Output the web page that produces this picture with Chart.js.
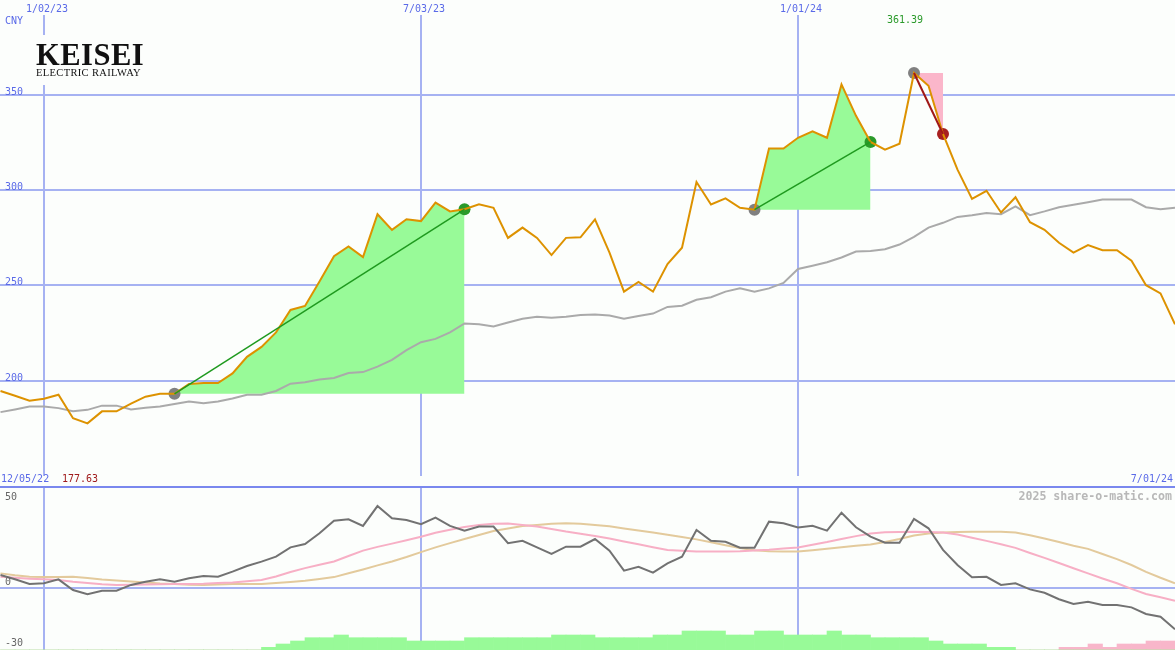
<!DOCTYPE html>
<html>
<head>
<meta charset="utf-8">
<title>Keisei Electric Railway</title>
<script src="https://cdn.jsdelivr.net/npm/chart.js@4.4.1/dist/chart.umd.min.js"></script>
<style>
  html, body { margin: 0; padding: 0; background: #fcfefc; overflow: hidden; }
  #wrap { position: relative; width: 1175px; height: 650px; }
  canvas { position: absolute; left: 0; }
  #sep { position: absolute; left: 0; top: 486px; width: 1175px; height: 2px; background: #7a88ee; }
  .lbl { position: absolute; font: 10px 'DejaVu Sans Mono', monospace; line-height: 12px; white-space: nowrap; color: #5a6ae8; }
  .grey { color: #666; }
  #wm { position: absolute; right: 3px; top: 489px; font: bold 11.6px 'DejaVu Sans Mono', monospace; line-height: 14px; color: #b8b8b8; white-space: nowrap; }
  #logo { position: absolute; left: 30px; top: 35px; width: 122px; height: 50px; background: #fcfefc; }
  #logo .big { position: absolute; left: 6px; top: 5px; font: bold 30.5px 'Liberation Serif', serif; line-height: 30px; letter-spacing: 0.5px; color: #111; white-space: nowrap; }
  #logo .small { position: absolute; left: 6px; top: 32px; font: 10.5px 'Liberation Serif', serif; line-height: 11px; letter-spacing: 0.35px; color: #111; white-space: nowrap; }
</style>
</head>
<body>
<div id="wrap">
  <canvas id="priceChart" width="1175" height="487" style="top:0"></canvas>
  <canvas id="oscChart" width="1175" height="163" style="top:487px"></canvas>
  <div id="sep"></div>
  <div id="logo"><div class="big">KEISEI</div><div class="small">ELECTRIC RAILWAY</div></div>
  <span class="lbl" style="left:5px;top:15px">CNY</span>
  <span class="lbl" style="left:1px;top:473px">12/05/22</span>
  <span class="lbl" id="lowLbl" style="left:62px;top:473px;color:#a01c1c"></span>
  <span class="lbl" style="right:2px;top:473px">7/01/24</span>
  <span class="lbl" id="highLbl" style="left:887px;top:14px;color:#2a9a2a"></span>
  <span id="wm">2025 share-o-matic.com</span>
  <span class="lbl grey" style="left:5px;top:491px">50</span>
  <span class="lbl grey" style="left:5px;top:576px">0</span>
  <span class="lbl grey" style="left:5px;top:637px">-30</span>
</div>
<script>
// Colors
const GRID_BLUE = '#a6b2f2';
const TICK_BLUE = '#5a6ae8';
const PRICE_ORANGE = '#dd9200';
const AVG_GREY = '#aaaaaa';
const GAIN_FILL = '#98fa98';
const LOSS_FILL = '#fbb6ca';
const GAIN_LINE = '#1f9a1f';
const LOSS_LINE = '#a01818';

// week number counted from 1/02/23, first point 12/12/22, last 7/01/24
const weeks = Array.from({ length: 82 }, (_, i) => i - 3);
const dateTicks = [0, 26, 52];
const dateTickLabels = ['1/02/23', '7/03/23', '1/01/24'];
const priceTicks = [200, 250, 300, 350];

// weekly close (CNY)
const price = [
    194.6, 192.1, 189.5, 190.5, 192.6, 180.3, 177.63, 183.9, 183.9, 188.0,
    191.6, 193.1, 193.1, 198.3, 198.8, 198.8, 203.8, 212.5, 217.7, 225.3,
    237.1, 239.2, 252.0, 265.3, 270.4, 264.8, 287.3, 279.1, 284.7, 283.7,
    293.4, 288.8, 289.9, 292.5, 290.7, 274.9, 280.3, 274.9, 265.9, 274.9,
    275.2, 284.6, 267.2, 246.7, 251.8, 246.7, 261.2, 269.7, 304.2, 292.4,
    295.6, 290.7, 289.7, 321.8, 321.8, 327.4, 330.8, 327.4, 355.4, 338.9,
    325.2, 321.2, 324.3, 361.39, 354.7, 329.4, 310.7, 295.3, 299.6, 288.2,
    296.2, 283.1, 279.1, 272.3, 267.2, 271.1, 268.4, 268.4, 262.9, 250.1,
    245.8, 229.6
];

// moving average
const average = [
    183.5, 184.9, 186.4, 186.4, 185.6, 184.0, 184.7, 186.9, 186.9, 184.9,
    185.8, 186.4, 187.8, 189.1, 188.1, 189.1, 190.7, 192.6, 192.6, 194.6,
    198.4, 199.2, 200.6, 201.4, 204.0, 204.5, 207.4, 210.9, 216.0, 220.2,
    221.9, 225.3, 230.0, 229.6, 228.4, 230.5, 232.5, 233.5, 233.0, 233.5,
    234.4, 234.7, 234.2, 232.5, 233.9, 235.2, 238.7, 239.3, 242.4, 243.8,
    246.7, 248.4, 246.7, 248.4, 251.3, 258.6, 260.3, 262.1, 264.6, 267.7,
    268.0, 268.9, 271.4, 275.4, 280.3, 282.8, 285.9, 286.8, 288.0, 287.3,
    291.4, 286.8, 288.8, 291.0, 292.3, 293.6, 295.0, 295.0, 295.0, 291.0,
    289.9, 290.7
];

// oscillator panel
const momentum = [
    7.6, 5.1, 2.4, 2.8, 5.1, -1.2, -3.7, -1.6, -1.6, 1.8,
    3.7, 5.1, 3.7, 5.7, 7.1, 6.6, 9.6, 12.9, 15.5, 18.4,
    23.9, 25.9, 32.2, 39.6, 40.4, 36.5, 48.2, 41.0, 40.0, 37.5,
    41.4, 36.5, 33.7, 36.1, 36.1, 26.3, 27.8, 23.9, 20.0, 24.3,
    24.3, 28.8, 21.9, 10.2, 12.5, 9.0, 14.5, 18.4, 34.1, 27.8,
    27.2, 23.7, 23.7, 39.0, 38.1, 35.6, 36.6, 33.7, 44.3, 35.7,
    30.2, 26.6, 26.6, 40.6, 35.1, 22.4, 13.5, 6.3, 6.6, 1.8,
    2.8, -0.8, -2.8, -6.6, -9.4, -8.1, -10.0, -10.0, -11.4, -15.3,
    -16.9, -24.3
];
const fastLine = [
    6.6, 6.0, 5.5, 5.1, 4.7, 3.7, 2.9, 2.2, 1.8, 1.9,
    2.1, 2.2, 2.3, 2.4, 2.5, 2.9, 3.3, 4.0, 4.7, 6.8,
    9.4, 11.7, 13.7, 15.6, 18.8, 22.0, 24.2, 26.1, 28.1, 30.1,
    32.5, 34.2, 35.9, 37.0, 37.8, 37.9, 37.0, 36.1, 34.7, 33.2,
    31.9, 30.6, 29.1, 27.4, 25.7, 24.0, 22.4, 21.9, 21.5, 21.4,
    21.4, 21.6, 22.0, 22.5, 23.2, 23.8, 25.4, 27.0, 28.8, 30.5,
    32.0, 32.8, 33.0, 33.1, 32.9, 32.6, 31.5, 29.6, 27.7, 25.7,
    23.6, 20.6, 17.7, 14.7, 11.6, 8.6, 5.6, 2.8, -0.5, -3.5,
    -5.5, -7.5
];
const slowLine = [
    8.6, 7.5, 6.6, 6.4, 6.5, 6.6, 5.9, 5.0, 4.4, 3.8,
    3.2, 2.6, 2.3, 1.9, 1.8, 2.1, 2.4, 2.4, 2.4, 2.9,
    3.5, 4.2, 5.3, 6.4, 8.7, 10.9, 13.3, 15.6, 18.2, 21.1,
    23.9, 26.4, 28.8, 31.2, 33.5, 35.0, 36.4, 37.1, 37.8, 38.1,
    37.8, 37.0, 36.3, 35.0, 33.8, 32.6, 31.3, 30.0, 28.6, 26.9,
    25.2, 23.5, 22.2, 21.6, 21.4, 21.4, 22.2, 23.1, 23.9, 24.8,
    25.6, 27.1, 28.8, 30.9, 32.1, 32.6, 33.0, 33.1, 33.1, 33.1,
    32.6, 31.0, 29.1, 27.0, 24.9, 23.0, 20.0, 17.0, 13.5, 9.5,
    6.0, 2.8
];
// strength bars, each covers the week that starts at its point
const upBars = [
    0, 0, 0, 0, 0, 0, 0, 0, 0, 0,
    0, 0, 0, 0, 0, 0, 0, 0, 2.7, 6,
    9, 12.3, 12.3, 15, 12.3, 12.3, 12.3, 12.3, 9, 9,
    9, 9, 12.3, 12.3, 12.3, 12.3, 12.3, 12.3, 15, 15,
    15, 12.3, 12.3, 12.3, 12.3, 15, 15, 19, 19, 19,
    15, 15, 19, 19, 15, 15, 15, 19, 15, 15,
    12.3, 12.3, 12.3, 12.3, 9, 6, 6, 6, 2.7, 2.7,
    0, 0, 0, 0, 0, 0, 0, 0, 0, 0,
    0, 0
];
const downBars = [
    0, 0, 0, 0, 0, 0, 0, 0, 0, 0,
    0, 0, 0, 0, 0, 0, 0, 0, 0, 0,
    0, 0, 0, 0, 0, 0, 0, 0, 0, 0,
    0, 0, 0, 0, 0, 0, 0, 0, 0, 0,
    0, 0, 0, 0, 0, 0, 0, 0, 0, 0,
    0, 0, 0, 0, 0, 0, 0, 0, 0, 0,
    0, 0, 0, 0, 0, 0, 0, 0, 0, 0,
    0, 0, 0, 2.7, 2.7, 6, 2.7, 6, 6, 9,
    9, 0
];

// trend runs as [start week, end week]
const gainRuns = [[9, 29], [49, 57]];
const lossRuns = [[60, 62]];

const X_MIN = -3.034;
const X_MAX = 78;

const pt = (arr, k) => ({ x: k, y: arr[k + 3] });
const series = (arr) => weeks.map(k => pt(arr, k));
const runPoints = ([a, b]) => weeks.filter(k => k >= a && k <= b).map(k => pt(price, k));

Chart.defaults.font.family = "'DejaVu Sans Mono', monospace";
Chart.defaults.font.size = 10;

const baseOptions = {
    responsive: false,
    animation: false,
    events: [],
    devicePixelRatio: 1,
    layout: { padding: 0, autoPadding: false },
    plugins: { legend: { display: false }, tooltip: { enabled: false } },
    elements: { point: { radius: 0 }, line: { tension: 0 } },
};

const dateAxis = (showLabels) => ({
    type: 'linear',
    position: showLabels ? 'top' : 'bottom',
    min: X_MIN,
    max: X_MAX,
    offset: false,
    afterBuildTicks: (axis) => { axis.ticks = dateTicks.map(v => ({ value: v })); },
    afterFit: (axis) => { axis.height = showLabels ? 15 : 0; },
    grid: { color: GRID_BLUE, lineWidth: 2, drawTicks: false, offset: false },
    border: { display: false },
    ticks: {
        display: showLabels,
        autoSkip: false,
        maxRotation: 0,
        padding: 0,
        labelOffset: 3,
        color: TICK_BLUE,
        callback: (v) => dateTickLabels[dateTicks.indexOf(v)],
    },
});

// Upper panel: price, average, trend fills
const trendSets = [];
gainRuns.forEach(r => {
    trendSets.push({
        data: runPoints(r),
        fill: { value: price[r[0] + 3] },
        backgroundColor: GAIN_FILL,
        borderColor: 'transparent',
        order: 5,
    });
    trendSets.push({
        data: [pt(price, r[0]), pt(price, r[1])],
        borderColor: GAIN_LINE,
        borderWidth: 1.5,
        order: 1,
    });
});
lossRuns.forEach(r => {
    trendSets.push({
        data: runPoints(r),
        fill: { value: price[r[0] + 3] },
        backgroundColor: LOSS_FILL,
        borderColor: 'transparent',
        order: 5,
    });
    trendSets.push({
        data: [pt(price, r[0]), pt(price, r[1])],
        borderColor: LOSS_LINE,
        borderWidth: 2,
        order: 1,
    });
});

const startMarks = [...gainRuns, ...lossRuns].map(r => pt(price, r[0]));
const gainEnds = gainRuns.map(r => pt(price, r[1]));
const lossEnds = lossRuns.map(r => pt(price, r[1]));
const markerSet = (data, color) => ({
    data,
    showLine: false,
    pointRadius: 6,
    pointBackgroundColor: color,
    pointBorderWidth: 0,
    order: 4,
});

new Chart(document.getElementById('priceChart'), {
    type: 'line',
    data: {
        datasets: [
            ...trendSets,
            markerSet(startMarks, '#808080'),
            markerSet(gainEnds, '#2a9a2a'),
            markerSet(lossEnds, '#a82020'),
            { data: series(average), borderColor: AVG_GREY, borderWidth: 2, order: 3 },
            { data: series(price), borderColor: PRICE_ORANGE, borderWidth: 2, order: 2 },
        ]
    },
    options: {
        ...baseOptions,
        scales: {
            x: dateAxis(true),
            y: {
                min: 150,
                max: 391.8,
                afterBuildTicks: (axis) => { axis.ticks = priceTicks.map(v => ({ value: v })); },
                afterFit: (axis) => { axis.width = 0; },
                grid: { color: GRID_BLUE, lineWidth: 2, drawTicks: false },
                border: { display: false },
                ticks: { mirror: true, padding: 5, labelOffset: -2.5, color: TICK_BLUE },
            }
        }
    }
});

// Lower panel: oscillator lines and strength bars
const barSet = (arr, color) => ({
    type: 'bar',
    yAxisID: 'yb',
    data: weeks.map(k => ({ x: k + 0.5, y: arr[k + 3] })),
    backgroundColor: color,
    borderWidth: 0,
    barPercentage: 1,
    categoryPercentage: 1,
    grouped: false,
    order: 5,
});

new Chart(document.getElementById('oscChart'), {
    type: 'line',
    data: {
        datasets: [
            barSet(upBars, '#98fa98'),
            barSet(downBars, '#f8b6ca'),
            { data: series(slowLine), borderColor: '#e3ca9c', borderWidth: 2, order: 3 },
            { data: series(fastLine), borderColor: '#f7afc5', borderWidth: 2, order: 2 },
            { data: series(momentum), borderColor: '#727272', borderWidth: 2, order: 1 },
        ]
    },
    options: {
        ...baseOptions,
        scales: {
            x: dateAxis(false),
            y: {
                min: -36.47,
                max: 59.4,
                afterBuildTicks: (axis) => { axis.ticks = [{ value: 0 }]; },
                afterFit: (axis) => { axis.width = 0; },
                grid: { color: GRID_BLUE, lineWidth: 2, drawTicks: false },
                border: { display: false },
                ticks: { display: false },
            },
            yb: { display: false, min: 0, max: 163 },
        }
    }
});

document.getElementById('highLbl').textContent = Math.max(...price).toFixed(2);
document.getElementById('lowLbl').textContent = Math.min(...price).toFixed(2);
</script>
</body>
</html>
